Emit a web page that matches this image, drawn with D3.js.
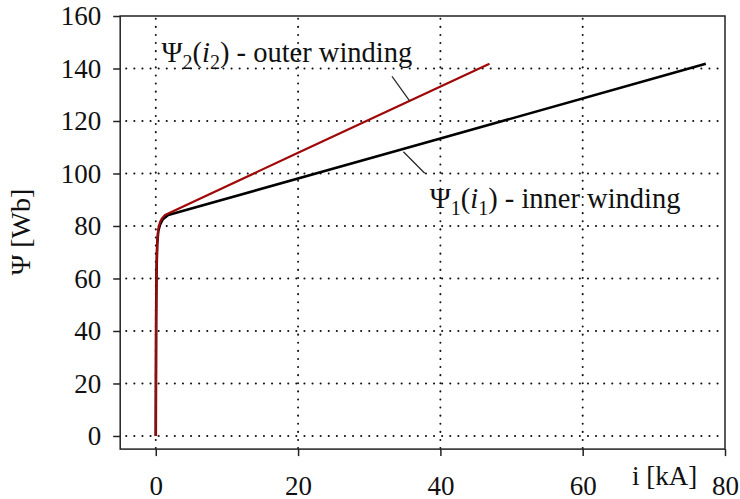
<!DOCTYPE html>
<html>
  <head>
    <meta charset="utf-8">
    <script src="https://d3js.org/d3.v7.min.js"></script>
    <style>
      body { margin: 0; background: #fff; }
      text { font-family: "Liberation Serif", "Times New Roman", serif; fill: #111; }
    </style>
  </head>
<body>
  <script type="text/javascript">
    // magnetising curves: current i [kA], flux linkage Psi [Wb]
    var inner_i   = [0, 0.05, 0.1, 0.2, 0.35, 0.6, 1.0, 1.75, 40, 77.3];
    var inner_psi = [0, 45, 62, 73, 78, 80.5, 82.6, 84.2, 113.3, 141.8];
    var outer_i   = [0, 0.05, 0.1, 0.2, 0.35, 0.6, 0.9, 1.3, 20, 46.9];
    var outer_psi = [0, 45, 62, 73.5, 78.8, 81.5, 83.0, 84.2, 107.9, 141.8];

    var xTicks = [0, 20, 40, 60, 80];
    var yTicks = [0, 20, 40, 60, 80, 100, 120, 140, 160];

    var width = 740, height = 499;

    var svg = d3.select("body").append("svg")
        .attr("width", width)
        .attr("height", height);

    var x = d3.scaleLinear().domain([-5, 80]).range([120.2, 725]);
    var y = d3.scaleLinear().domain([-5, 160]).range([449.1, 16]);

    //dotted grid
    var grid = svg.append("g").attr("class", "grid")
        .attr("stroke", "#111")
        .attr("stroke-width", 2)
        .attr("stroke-linecap", "round")
        .attr("stroke-dasharray", "0.1,8");
    grid.selectAll("line.h")
        .data(yTicks.filter(function (d) { return d < 160; }))
        .enter().append("line")
            .attr("x1", x(-5) + 6).attr("x2", x(80))
            .attr("y1", function (d) { return y(d); })
            .attr("y2", function (d) { return y(d); });
    grid.selectAll("line.v")
        .data(xTicks.filter(function (d) { return d < 80; }))
        .enter().append("line")
            .attr("y1", y(-5) - 1).attr("y2", y(160))
            .attr("x1", function (d) { return x(d); })
            .attr("x2", function (d) { return x(d); });

    //frame box
    svg.append("rect")
        .attr("x", x(-5)).attr("y", y(160))
        .attr("width", x(80) - x(-5)).attr("height", y(-5) - y(160))
        .attr("fill", "none").attr("stroke", "#222").attr("stroke-width", 1.5);

    //axes (outward ticks)
    var xAxis = svg.append("g")
        .attr("transform", "translate(0," + y(-5) + ")")
        .call(d3.axisBottom(x).tickValues(xTicks).tickSize(7).tickPadding(20));
    var yAxis = svg.append("g")
        .attr("transform", "translate(" + x(-5) + ",0)")
        .call(d3.axisLeft(y).tickValues(yTicks).tickSize(7).tickPadding(12));
    [xAxis, yAxis].forEach(function (a) {
        a.select(".domain").remove();
        a.selectAll(".tick line").attr("stroke", "#222").attr("stroke-width", 1.5);
        a.selectAll(".tick text")
            .style("font-family", "'Liberation Serif', 'Times New Roman', serif")
            .style("font-size", "27px")
            .attr("fill", "#111");
    });

    //axis titles
    svg.append("text")
        .attr("x", 632).attr("y", 485)
        .style("font-size", "27px")
        .text("i [kA]");
    svg.append("text")
        .attr("transform", "translate(30,232) rotate(-90)")
        .attr("text-anchor", "middle")
        .style("font-size", "28px")
        .text("\u03a8 [Wb]");

    //curves
    var line = d3.line()
        .x(function (d) { return x(d[0]); })
        .y(function (d) { return y(d[1]); })
        .curve(d3.curveLinear);

    var inner = d3.zip(inner_i, inner_psi);
    var outer = d3.zip(outer_i, outer_psi);

    svg.append("path").datum(inner)
        .attr("d", line)
        .attr("fill", "none").attr("stroke", "#000").attr("stroke-width", 2.6)
        .attr("stroke-linejoin", "round");
    svg.append("path").datum(outer)
        .attr("d", line)
        .attr("fill", "none").attr("stroke", "#a00808").attr("stroke-width", 2.2)
        .attr("stroke-linejoin", "round");

    //leader lines for the labels (data units)
    var leaders = [
        [[33.2, 137], [35.7, 127.6]],
        [[34.8, 108.3], [37.8, 100.1]]
    ];
    svg.selectAll("line.leader")
        .data(leaders)
        .enter().append("line")
            .attr("x1", function (d) { return x(d[0][0]); })
            .attr("y1", function (d) { return y(d[0][1]); })
            .attr("x2", function (d) { return x(d[1][0]); })
            .attr("y2", function (d) { return y(d[1][1]); })
            .attr("stroke", "#222").attr("stroke-width", 1.2);

    //curve labels
    function label(xpos, ypos, n, rest) {
        var t = svg.append("text")
            .attr("x", xpos).attr("y", ypos)
            .style("font-size", "28.5px");
        t.append("tspan").text("\u03a8");
        t.append("tspan").attr("dy", 7).style("font-size", "20px").text(n);
        t.append("tspan").attr("dy", -7).text("(");
        t.append("tspan").style("font-style", "italic").text("i");
        t.append("tspan").attr("dy", 7).style("font-size", "20px").text(n);
        t.append("tspan").attr("dy", -7).text(") - " + rest);
    }
    label(x(0.8), y(142.6), "2", "outer winding");
    label(x(38.5), y(86.9), "1", "inner winding");
  </script>
</body>
</html>
